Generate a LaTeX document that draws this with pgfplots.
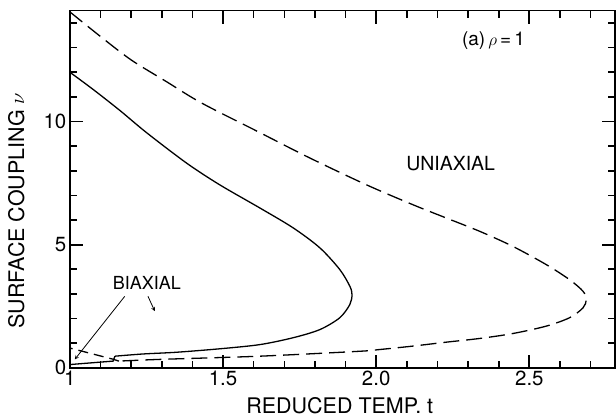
\documentclass[border=0pt]{standalone}
\usepackage{fontspec}
\setmainfont{TeX Gyre Heros}
\usepackage{pgfplots}
\pgfplotsset{compat=1.18}
\begin{document}
\begin{tikzpicture}
\begin{axis}[
  scale only axis,
  width=546pt, height=357.6pt,
  xmin=1, xmax=2.78, ymin=0, ymax=14.5,
  xtick={1,1.5,2,2.5}, xticklabels={1,1.5,2.0,2.5},
  minor xtick={1.1,1.2,1.3,1.4,1.6,1.7,1.8,1.9,2.1,2.2,2.3,2.4,2.6,2.7},
  ytick={0,5,10}, yticklabels={0,5,10},
  minor ytick={1,2,3,4,6,7,8,9,11,12,13,14},
  xtick pos=both, ytick pos=both,
  xtick align=inside, ytick align=inside,
  major tick length=13pt, minor tick length=7pt,
  major tick style={line width=1.8pt, draw=black, solid},
  minor tick style={line width=1.6pt, draw=black, solid},
  axis line style={line width=1.6pt},
  ticklabel style={font=\fontsize{20.5}{21}\selectfont},
  xlabel={REDUCED TEMP. t},
  ylabel={SURFACE COUPLING $\nu$},
  label style={font=\fontsize{21.5}{22}\selectfont},
  xlabel style={at={(axis description cs:0.495,-0.128)}, anchor=base, inner sep=0pt},
  ylabel style={at={(axis description cs:-0.084,0.44)}, anchor=base, inner sep=0pt},
  clip=false,
]
\addplot[black, line width=1.3pt, smooth, tension=0.5] coordinates {
(1,12.0) (1.076,11.3) (1.163,10.45) (1.25,9.55) (1.381,8.31) (1.489,7.43)
(1.62,6.49) (1.729,5.68) (1.816,4.87) (1.881,3.99) (1.914,3.31) (1.921,2.97)
(1.914,2.57) (1.881,2.03) (1.816,1.55) (1.729,1.22) (1.62,0.94) (1.489,0.77)
(1.348,0.63) (1.239,0.56) (1.147,0.47)};
\addplot[black, line width=1.3pt] coordinates {
(1.147,0.47) (1.141,0.27) (1.0,0.13)};
\addplot[black, line width=1.3pt, dash pattern=on 16pt off 7pt, smooth, tension=0.5] coordinates {
(1.0,14.45) (1.1,13.45) (1.2,12.5) (1.315,11.62) (1.43,10.75) (1.62,9.55)
(1.783,8.52) (1.968,7.43) (2.12,6.62) (2.229,6.08) (2.338,5.54) (2.446,4.93)
(2.555,4.19) (2.631,3.58) (2.675,3.11) (2.686,2.77) (2.675,2.43) (2.631,2.03)
(2.555,1.69) (2.446,1.39) (2.338,1.19) (2.229,1.04) (2.12,0.88) (2.011,0.74)
(1.946,0.67) (1.62,0.47) (1.294,0.34) (1.16,0.27)};
\addplot[black, line width=1.3pt, dash pattern=on 10pt off 6pt] coordinates {
(1.16,0.27) (1.14,0.35) (1.0,0.8)};
\node[font=\fontsize{19}{20}\selectfont] at (axis cs:2.383,13.3) {(a)\,$\rho$\,=\,1};
\node[font=\fontsize{19.5}{20}\selectfont] at (axis cs:2.243,8.28) {UNIAXIAL};
\node[font=\fontsize{18}{19}\selectfont] at (axis cs:1.251,3.46) {BIAXIAL};
\draw[-stealth, line width=0.8pt] (axis cs:1.179,2.9) -- (axis cs:1.016,0.34);
\draw[-stealth, line width=0.8pt] (axis cs:1.255,2.9) -- (axis cs:1.277,2.3);
\coordinate (sw) at (rel axis cs:0,0);
\coordinate (ne) at (rel axis cs:1,1);
\end{axis}
\path ([shift={(-70pt,-50.7pt)}]sw) rectangle ([shift={(0.5pt,10.7pt)}]ne);
\end{tikzpicture}
\end{document}
